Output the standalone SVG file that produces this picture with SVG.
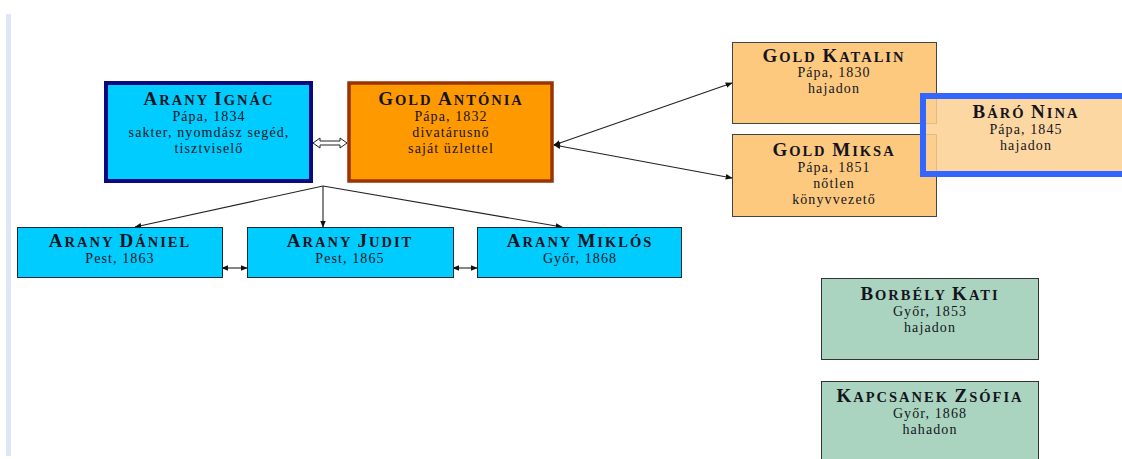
<svg xmlns="http://www.w3.org/2000/svg" width="1122" height="459" viewBox="0 0 1122 459">
<defs>
<style>
.t{font-family:"Liberation Serif","Times New Roman",serif;fill:#141420;text-anchor:middle}
.h{font-size:14.5px;font-weight:bold;letter-spacing:2px}
.c{font-size:19px}
.s{font-size:14px;letter-spacing:1.1px}
.ln{stroke:#222;stroke-width:1.1;fill:none}
.cy{fill:#00ccff;stroke:#1a2a3a;stroke-width:1}
.or{fill:#fdc97f;stroke:#444;stroke-width:1}
.gr{fill:#aad4c0;stroke:#333;stroke-width:1}
</style>
<marker id="a" viewBox="0 0 10 10" refX="9" refY="5" markerWidth="7" markerHeight="7" orient="auto-start-reverse" markerUnits="userSpaceOnUse"><path d="M0,1 L10,5 L0,9 z" fill="#111"/></marker>
</defs>
<rect width="1122" height="459" fill="#fff"/>
<rect x="6" y="14" width="5" height="442" fill="#dce8f8"/>
<g id="connectors">
<polygon points="313,143 320,138 320,141 340,141 340,138 347,143 340,148 340,145 320,145 320,148" fill="#fff" stroke="#222" stroke-width="1"/>
<line class="ln" x1="323" y1="186" x2="135" y2="227" marker-end="url(#a)"/>
<line class="ln" x1="323" y1="186" x2="323" y2="227" marker-end="url(#a)"/>
<line class="ln" x1="323" y1="186" x2="562" y2="227" marker-end="url(#a)"/>
<line class="ln" x1="554" y1="145" x2="732" y2="83" marker-start="url(#a)" marker-end="url(#a)"/>
<line class="ln" x1="554" y1="145" x2="732" y2="178" marker-start="url(#a)" marker-end="url(#a)"/>
<line class="ln" x1="222" y1="268" x2="247" y2="268" marker-start="url(#a)" marker-end="url(#a)"/>
<line class="ln" x1="453" y1="268" x2="477" y2="268" marker-start="url(#a)" marker-end="url(#a)"/>
</g>
<g id="arany-ignac">
<rect x="106" y="83" width="205" height="98" fill="#00ccff" stroke="#0a0a80" stroke-width="4"/>
<text class="t h" x="209" y="105"><tspan class="c">A</tspan>RANY <tspan class="c">I</tspan>GNÁC</text>
<text class="t s" x="209" y="121">Pápa, 1834</text>
<text class="t s" x="209" y="137">sakter, nyomdász segéd,</text>
<text class="t s" x="209" y="153">tisztviselő</text>
</g>
<g id="gold-antonia">
<rect x="349" y="83" width="203" height="98" fill="#ff9900" stroke="#993300" stroke-width="3.5"/>
<text class="t h" x="451" y="105"><tspan class="c">G</tspan>OLD <tspan class="c">A</tspan>NTÓNIA</text>
<text class="t s" x="451" y="121">Pápa, 1832</text>
<text class="t s" x="451" y="137">divatárusnő</text>
<text class="t s" x="451" y="153">saját üzlettel</text>
</g>
<g id="gold-katalin">
<rect class="or" x="732.5" y="42.5" width="204" height="81"/>
<text class="t h" x="834" y="62"><tspan class="c">G</tspan>OLD <tspan class="c">K</tspan>ATALIN</text>
<text class="t s" x="834" y="77">Pápa, 1830</text>
<text class="t s" x="834" y="93">hajadon</text>
</g>
<g id="gold-miksa">
<rect class="or" x="732.5" y="134.5" width="204" height="82"/>
<text class="t h" x="834" y="156"><tspan class="c">G</tspan>OLD <tspan class="c">M</tspan>IKSA</text>
<text class="t s" x="834" y="172">Pápa, 1851</text>
<text class="t s" x="834" y="188">nőtlen</text>
<text class="t s" x="834" y="204">könyvvezető</text>
</g>
<g id="baro-nina">
<rect x="923" y="96" width="205" height="78" fill="#fdd090" fill-opacity="0.85" stroke="#3366ff" stroke-width="6"/>
<text class="t h" x="1026" y="118"><tspan class="c">B</tspan>ÁRÓ <tspan class="c">N</tspan>INA</text>
<text class="t s" x="1026" y="134">Pápa, 1845</text>
<text class="t s" x="1026" y="150">hajadon</text>
</g>
<g id="arany-daniel">
<rect class="cy" x="17.5" y="227.5" width="205" height="50"/>
<text class="t h" x="120" y="247"><tspan class="c">A</tspan>RANY <tspan class="c">D</tspan>ÁNIEL</text>
<text class="t s" x="120" y="263">Pest, 1863</text>
</g>
<g id="arany-judit">
<rect class="cy" x="247.5" y="227.5" width="206" height="50"/>
<text class="t h" x="350" y="247"><tspan class="c">A</tspan>RANY <tspan class="c">J</tspan>UDIT</text>
<text class="t s" x="350" y="263">Pest, 1865</text>
</g>
<g id="arany-miklos">
<rect class="cy" x="477.5" y="227.5" width="204" height="50"/>
<text class="t h" x="580" y="247"><tspan class="c">A</tspan>RANY <tspan class="c">M</tspan>IKLÓS</text>
<text class="t s" x="580" y="263">Győr, 1868</text>
</g>
<g id="borbely-kati">
<rect class="gr" x="821.5" y="278.5" width="217" height="81"/>
<text class="t h" x="930" y="300"><tspan class="c">B</tspan>ORBÉLY <tspan class="c">K</tspan>ATI</text>
<text class="t s" x="930" y="316">Győr, 1853</text>
<text class="t s" x="930" y="332">hajadon</text>
</g>
<g id="kapcsanek-zsofia">
<rect class="gr" x="821.5" y="381.5" width="217" height="85"/>
<text class="t h" x="930" y="402"><tspan class="c">K</tspan>APCSANEK <tspan class="c">Z</tspan>SÓFIA</text>
<text class="t s" x="930" y="418">Győr, 1868</text>
<text class="t s" x="930" y="434">hahadon</text>
</g>
</svg>
